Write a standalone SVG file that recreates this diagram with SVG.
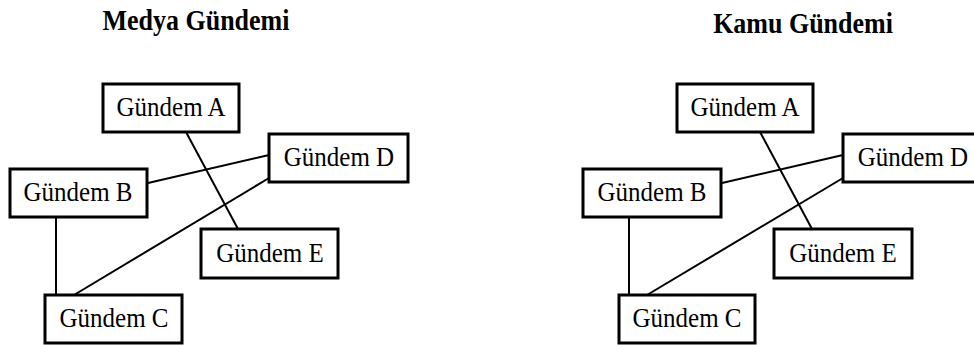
<svg xmlns="http://www.w3.org/2000/svg" width="974" height="345" viewBox="0 0 974 345">
  <style>
    .box { fill: #ffffff; stroke: #000000; stroke-width: 3; }
    .lbl { font-family: "Liberation Serif", "Times New Roman", serif; font-size: 25px; fill: #000000; text-anchor: middle; }
    .title { font-family: "Liberation Serif", "Times New Roman", serif; font-size: 26px; font-weight: bold; fill: #000000; text-anchor: middle; }
    .edge { stroke: #000000; stroke-width: 2; fill: none; }
  </style>
  <rect width="974" height="345" fill="#ffffff"/>

  <!-- Left panel: media agenda -->
  <text class="title" transform="translate(196 30) scale(1 1.15)">Medya Gündemi</text>
  <g id="media-edges">
    <line class="edge" x1="186" y1="132" x2="238" y2="229"/>
    <line class="edge" x1="148" y1="183" x2="269" y2="155"/>
    <line class="edge" x1="269" y1="178" x2="74" y2="295"/>
    <line class="edge" x1="56" y1="217" x2="56" y2="295"/>
  </g>
  <g id="media-a"><rect class="box" x="103" y="84" width="136" height="48"/><text class="lbl" transform="translate(171 116) scale(1 1.1)">Gündem A</text></g>
  <g id="media-d"><rect class="box" x="269" y="134" width="139" height="48"/><text class="lbl" transform="translate(339 166) scale(1 1.1)">Gündem D</text></g>
  <g id="media-b"><rect class="box" x="10" y="169" width="137" height="48"/><text class="lbl" transform="translate(78 201) scale(1 1.1)">Gündem B</text></g>
  <g id="media-e"><rect class="box" x="201" y="229" width="137" height="49"/><text class="lbl" transform="translate(270 262) scale(1 1.1)">Gündem E</text></g>
  <g id="media-c"><rect class="box" x="45" y="295" width="137" height="48"/><text class="lbl" transform="translate(114 327) scale(1 1.1)">Gündem C</text></g>

  <!-- Right panel: public agenda -->
  <text class="title" transform="translate(803 33) scale(1 1.15)">Kamu Gündemi</text>
  <g id="public-edges">
    <line class="edge" x1="760" y1="132" x2="812" y2="229"/>
    <line class="edge" x1="722" y1="183" x2="843" y2="155"/>
    <line class="edge" x1="843" y1="178" x2="647" y2="295"/>
    <line class="edge" x1="629" y1="217" x2="629" y2="295"/>
  </g>
  <g id="public-a"><rect class="box" x="677" y="84" width="136" height="48"/><text class="lbl" transform="translate(745 116) scale(1 1.1)">Gündem A</text></g>
  <g id="public-d"><rect class="box" x="843" y="134" width="140" height="48"/><text class="lbl" transform="translate(913 166) scale(1 1.1)">Gündem D</text></g>
  <g id="public-b"><rect class="box" x="583" y="169" width="138" height="48"/><text class="lbl" transform="translate(652 201) scale(1 1.1)">Gündem B</text></g>
  <g id="public-e"><rect class="box" x="774" y="229" width="138" height="49"/><text class="lbl" transform="translate(843 262) scale(1 1.1)">Gündem E</text></g>
  <g id="public-c"><rect class="box" x="619" y="295" width="136" height="48"/><text class="lbl" transform="translate(687 327) scale(1 1.1)">Gündem C</text></g>
</svg>
